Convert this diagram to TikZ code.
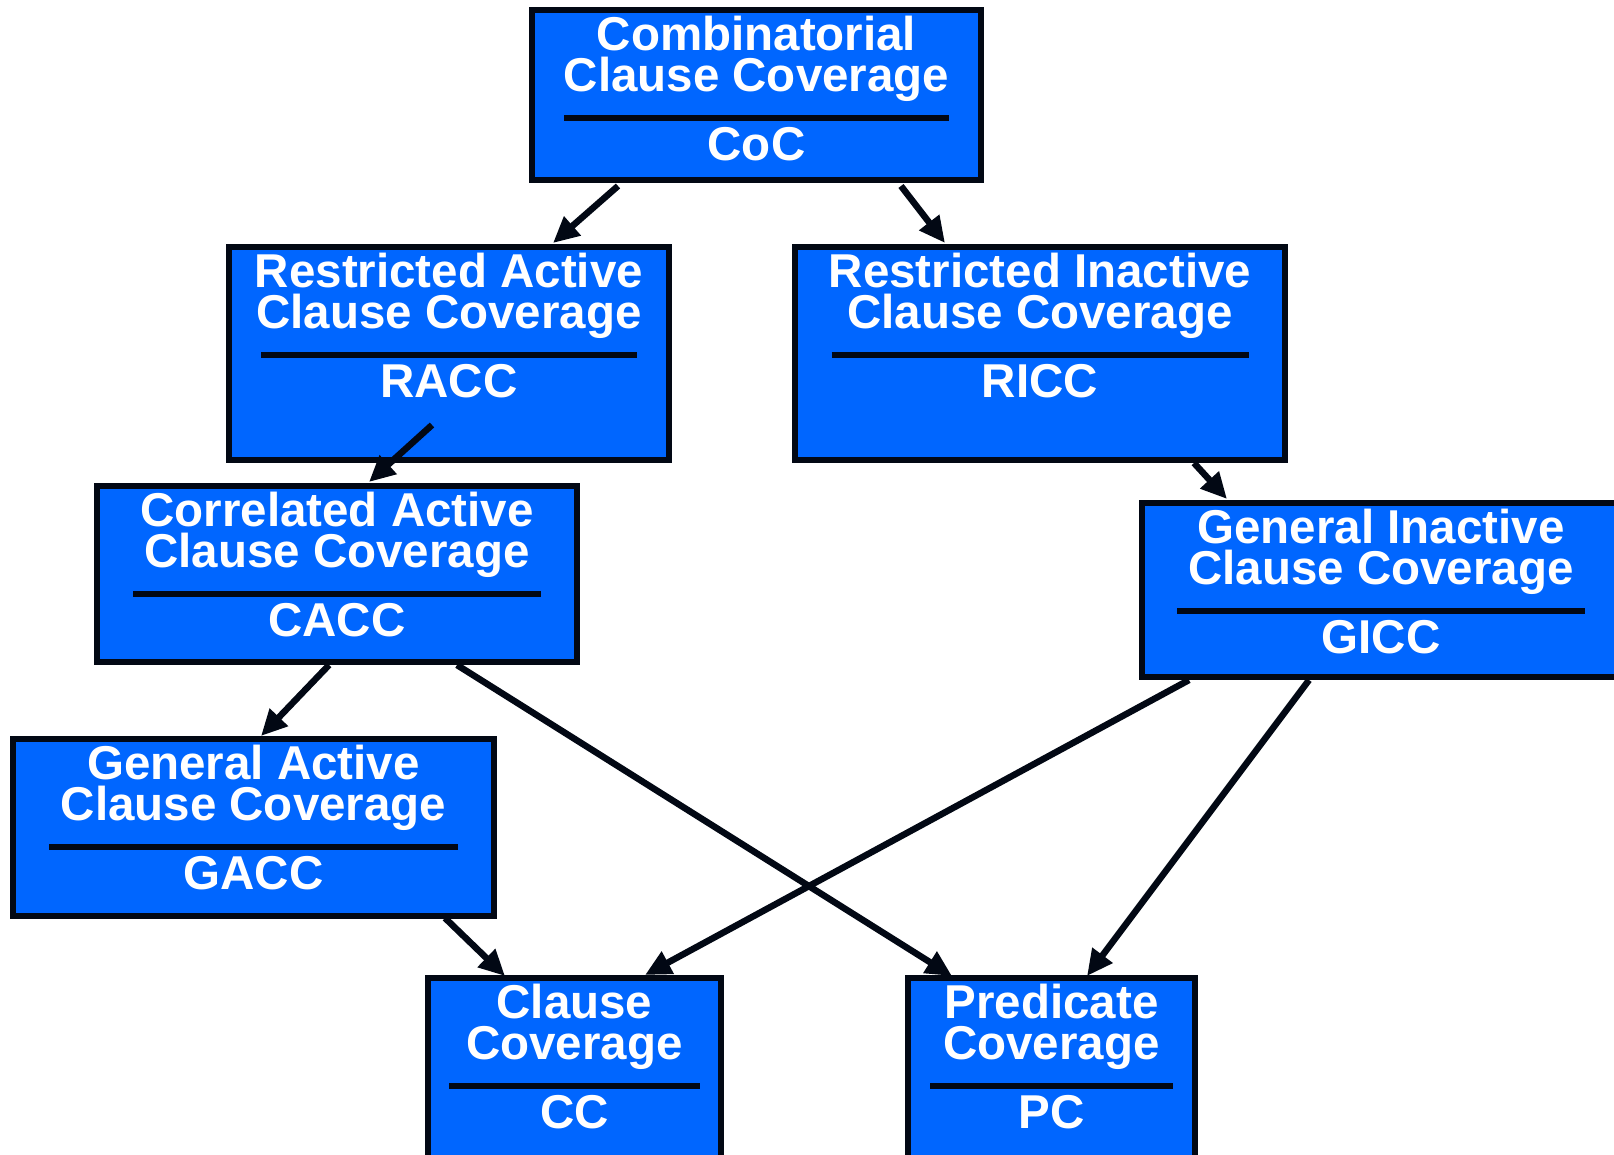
\documentclass[tikz,border=0pt]{standalone}
\usepackage{fontspec}
\setmainfont{Liberation Sans}
\usetikzlibrary{arrows.meta,calc}
\definecolor{boxblue}{RGB}{0,102,255}
\definecolor{ink}{RGB}{2,8,20}
\tikzset{
  cbox/.style={draw=ink, line width=6pt, fill=boxblue, rectangle, inner sep=0pt, outer sep=0pt},
  ctext/.style={text=white, font=\bfseries\fontsize{47.5}{41}\selectfont, inner sep=0pt, anchor=base, text height=30pt, text depth=9pt},
  sepline/.style={draw=ink, line width=6pt},
  arr/.style={draw=ink, line width=6.5pt, -{Triangle[length=26pt,width=24pt]}}
}
\newcommand\covbox[9]{%
  \node[cbox, minimum width={(#4)-(#2)}, minimum height={(#5)-(#3)}] (#1) at ({((#2)+(#4))/2},{((#3)+(#5))/2}) {};
  \node[ctext] (#1-l1) at ($(#1.north)+(0,40)$) {#6};
  \node[ctext] (#1-l2) at ($(#1.north)+(0,81)$) {#7};
  \draw[sepline] ($(#1.north)+(-#9,108)$) -- ($(#1.north)+(#9,108)$);
  \node[ctext] (#1-ab) at ($(#1.north)+(0,150)$) {#8};
}
\begin{document}
\begin{tikzpicture}[x=1pt,y=-1pt]
\useasboundingbox (0,0) rectangle (1614,1154);
\clip (0,0) rectangle (1614,1154);
\covbox{coc}{532}{10}{981}{180}{Combinatorial}{Clause Coverage}{CoC}{192.5}
\covbox{racc}{229}{247}{669}{460}{Restricted Active}{Clause Coverage}{RACC}{188}
\covbox{ricc}{795}{247}{1285}{460}{Restricted Inactive}{Clause Coverage}{RICC}{208.5}
\covbox{cacc}{97}{486}{577}{662}{Correlated Active}{Clause Coverage}{CACC}{204}
\covbox{gicc}{1142}{503}{1620}{677}{General Inactive}{Clause Coverage}{GICC}{204}
\covbox{gacc}{13}{739}{494}{916}{General Active}{Clause Coverage}{GACC}{204.5}
\covbox{cc}{428}{978}{721}{1175}{Clause}{Coverage}{CC}{125.5}
\covbox{pc}{908}{978}{1195}{1175}{Predicate}{Coverage}{PC}{121.5}

\draw[arr] ($(coc.south west)+(86,6)$) -- ($(racc.north west)+(324,-4)$);
\draw[arr] ($(coc.south west)+(369,6)$) -- ($(ricc.north west)+(150,-4)$);
\draw[arr] ($(racc.south west)+(203,-35)$) -- ($(cacc.north west)+(272,-4)$);
\draw[arr] ($(ricc.south west)+(399,3)$) -- ($(gicc.north west)+(85,-4)$);
\draw[arr] ($(cacc.south west)+(232,3)$) -- ($(gacc.north west)+(248,-3)$);
\draw[arr] ($(cacc.south west)+(360,3)$) -- ($(pc.north west)+(44,-2)$);
\draw[arr] ($(gicc.south west)+(47,3)$) -- ($(cc.north west)+(217,-3)$);
\draw[arr] ($(gicc.south west)+(167,3)$) -- ($(pc.north west)+(179,-2)$);
\draw[arr] ($(gacc.south west)+(432,2)$) -- ($(cc.north west)+(77,-2)$);
\end{tikzpicture}
\end{document}
